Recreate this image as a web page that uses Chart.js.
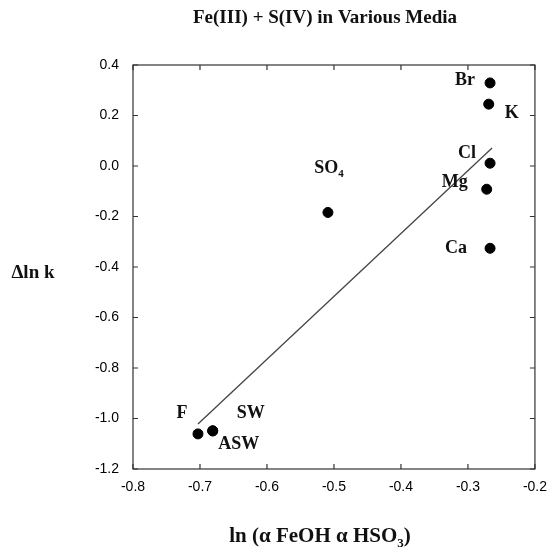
<!DOCTYPE html>
<html>
<head>
<meta charset="utf-8">
<script src="https://cdn.jsdelivr.net/npm/chart.js@4.4.1/dist/chart.umd.min.js"></script>
<style>
  html, body { margin: 0; padding: 0; background: #fff; }
  #wrap { width: 557px; height: 549px; }
</style>
</head>
<body>
<div id="wrap"><canvas id="myChart"></canvas></div>
<script>
const media = ["Br", "K", "Cl", "Mg", "Ca", "SO4", "F", "SW", "ASW"];
const lnAlpha = [-0.267, -0.269, -0.267, -0.272, -0.267, -0.509, -0.703, -0.681, -0.681];
const dLnK = [0.329, 0.245, 0.011, -0.092, -0.326, -0.184, -1.061, -1.049, -1.049];

const fitX = [-0.703, -0.264];
const fitY = [-1.022, 0.071];

const xTicks = [-0.8, -0.7, -0.6, -0.5, -0.4, -0.3, -0.2];
const yTicks = [0.4, 0.2, 0.0, -0.2, -0.4, -0.6, -0.8, -1.0, -1.2];

// label offsets from each dot, in pixels
const labelOffset = {
  Br: [-25, -3], K: [23, 9], Cl: [-23, -10], Mg: [-32, -7], Ca: [-34, 0],
  SO4: [1, -44], F: [-16, -21], SW: [38, -18], ASW: [26, 13]
};

const serif = '"Liberation Serif", "Times New Roman", serif';

// draws text with a subscript part, centred at x
function drawSub(ctx, parts, x, y, size) {
  let w = 0;
  parts.forEach(p => {
    ctx.font = "bold " + (p.sub ? Math.round(size * 0.62) : size) + "px " + serif;
    w += ctx.measureText(p.t).width;
  });
  let cx = x - w / 2;
  ctx.textAlign = "left";
  parts.forEach(p => {
    ctx.font = "bold " + (p.sub ? Math.round(size * 0.62) : size) + "px " + serif;
    ctx.fillText(p.t, cx, p.sub ? y + size * 0.3 : y);
    cx += ctx.measureText(p.t).width;
  });
}

const decor = {
  id: "decor",
  afterDraw(chart) {
    const ctx = chart.ctx;
    const a = chart.chartArea;
    const xs = chart.scales.x, ys = chart.scales.y;
    ctx.save();

    // frame and inward ticks
    ctx.strokeStyle = "#333";
    ctx.lineWidth = 1.2;
    ctx.strokeRect(a.left, a.top, a.right - a.left, a.bottom - a.top);
    ctx.beginPath();
    xTicks.forEach(v => {
      const px = xs.getPixelForValue(v);
      ctx.moveTo(px, a.bottom); ctx.lineTo(px, a.bottom - 5);
      ctx.moveTo(px, a.top); ctx.lineTo(px, a.top + 5);
    });
    yTicks.forEach(v => {
      const py = ys.getPixelForValue(v);
      ctx.moveTo(a.left, py); ctx.lineTo(a.left + 5, py);
      ctx.moveTo(a.right, py); ctx.lineTo(a.right - 5, py);
    });
    ctx.stroke();

    // point labels
    ctx.fillStyle = "#111";
    ctx.textBaseline = "middle";
    media.forEach((m, i) => {
      const px = xs.getPixelForValue(lnAlpha[i]) + labelOffset[m][0];
      const py = ys.getPixelForValue(dLnK[i]) + labelOffset[m][1];
      if (m === "SO4") {
        drawSub(ctx, [{ t: "SO" }, { t: "4", sub: true }], px, py, 18);
      } else {
        ctx.font = "bold 18px " + serif;
        ctx.textAlign = "center";
        ctx.fillText(m, px, py);
      }
    });

    // titles
    ctx.font = "bold 19px " + serif;
    ctx.textAlign = "center";
    ctx.fillText("Fe(III) + S(IV) in Various Media", 325, 18);
    ctx.font = "bold 19px " + serif;
    ctx.fillText("\u0394ln k", 33, 273);
    drawSub(ctx, [{ t: "ln (\u03b1 FeOH \u03b1 HSO" }, { t: "3", sub: true }, { t: ")" }], 320, 537, 21);
    ctx.restore();
  }
};

const ctx = document.getElementById("myChart").getContext("2d");

new Chart(ctx, {
  type: "scatter",
  data: {
    datasets: [
      {
        data: lnAlpha.map((x, i) => ({ x: x, y: dLnK[i] })),
        backgroundColor: "#000",
        borderColor: "#000",
        pointRadius: 5,
        pointHoverRadius: 5,
      },
      {
        type: "line",
        data: fitX.map((x, i) => ({ x: x, y: fitY[i] })),
        borderColor: "#444",
        borderWidth: 1.3,
        pointRadius: 0,
        tension: 0,
        fill: false,
      },
    ],
  },
  options: {
    responsive: true,
    maintainAspectRatio: false,
    animation: false,
    layout: { padding: { top: 65, right: 14, bottom: 0, left: 0 } },
    plugins: {
      legend: { display: false },
      tooltip: { enabled: false },
    },
    scales: {
      x: {
        type: "linear",
        min: -0.8,
        max: -0.2,
        afterFit: s => { s.height = 80; },
        afterBuildTicks: s => { s.ticks = xTicks.map(v => ({ value: v })); },
        grid: { display: false, drawTicks: false },
        border: { display: false },
        ticks: {
          padding: 10,
          color: "#000",
          font: { family: '"Liberation Sans", Arial, sans-serif', size: 14 },
          callback: v => v.toFixed(1),
        },
      },
      y: {
        type: "linear",
        min: -1.2,
        max: 0.4,
        afterFit: s => { s.width = 133; },
        afterBuildTicks: s => { s.ticks = yTicks.map(v => ({ value: v })); },
        grid: { display: false, drawTicks: false },
        border: { display: false },
        ticks: {
          padding: 14,
          color: "#000",
          font: { family: '"Liberation Sans", Arial, sans-serif', size: 14 },
          callback: v => v.toFixed(1),
        },
      },
    },
  },
  plugins: [decor],
});
</script>
</body>
</html>
